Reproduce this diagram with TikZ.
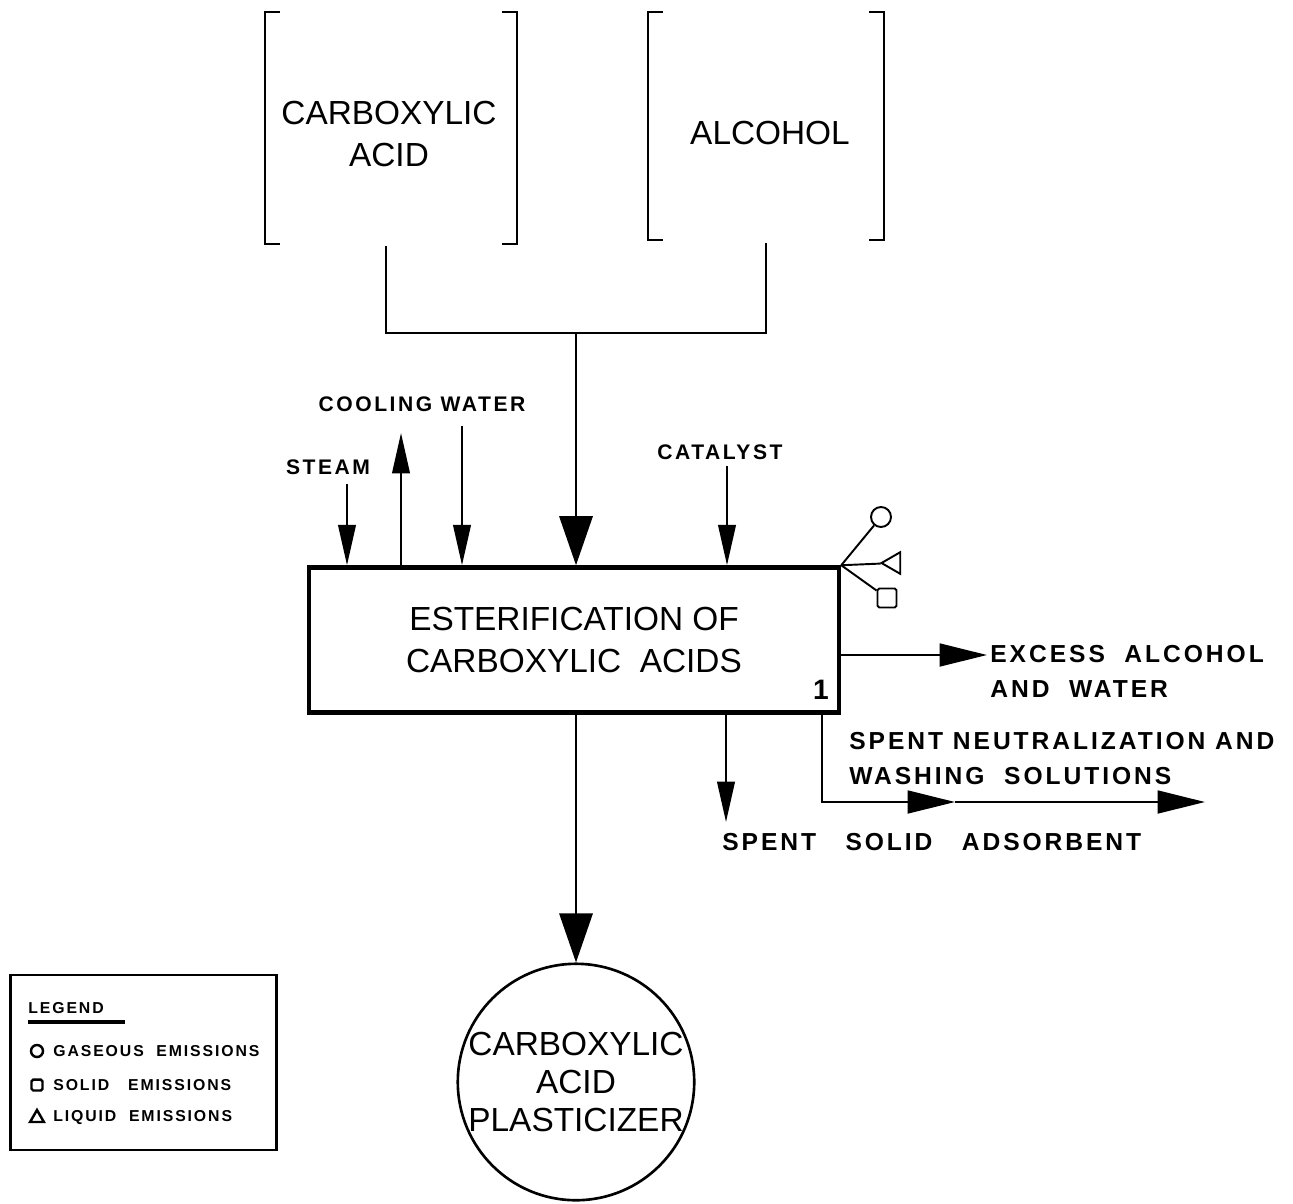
\documentclass[tikz,border=0pt]{standalone}
\usepackage{fontspec}
\setmainfont{Liberation Sans}
\newfontfamily\labelfont[LetterSpace=12]{Liberation Sans}
\usetikzlibrary{arrows.meta,shapes.geometric}

\tikzset{
  flow/.style={line width=1.3pt, -{Triangle[length=23pt,width=10pt]}},
  wideflow/.style={line width=1.3pt, -{Triangle[length=27pt,width=13pt]}},
  bigflow/.style={line width=1.3pt, -{Triangle[length=28pt,width=19pt]}},
  big/.style={font=\fontsize{19}{24}\selectfont, align=center},
  lbl/.style={font=\labelfont\bfseries\fontsize{12}{14}\selectfont, inner sep=0pt},
  rlbl/.style={font=\labelfont\bfseries\fontsize{14}{20}\selectfont, inner sep=0pt, align=left},
  lgd/.style={font=\labelfont\bfseries\fontsize{9}{9}\selectfont, inner sep=0pt},
  key/.style={draw, line width=1.4pt, inner sep=0pt},
}

\begin{document}
\begin{tikzpicture}[x=0.02cm, y=-0.02cm]
    \useasboundingbox (0,0) rectangle (1293,1203);

    % raw materials
    \node [minimum width=5.02cm, minimum height=4.62cm] (acidframe) at (391,128) {};
    \node [minimum width=4.7cm, minimum height=4.56cm] (alcoholframe) at (766,126) {};
    \node [big] (acid) at (389,134) {CARBOXYLIC\\ACID};
    \node [big] (alcohol) at (770,133) {ALCOHOL};
    \draw [line width=1.1pt] ([xshift=0.3cm]acidframe.north west) -- (acidframe.north west) -- (acidframe.south west) -- ++(15,0);
    \draw [line width=1.1pt] ([xshift=-0.3cm]acidframe.north east) -- (acidframe.north east) -- (acidframe.south east) -- ++(-15,0);
    \draw [line width=1.1pt] ([xshift=0.3cm]alcoholframe.north west) -- (alcoholframe.north west) -- (alcoholframe.south west) -- ++(15,0);
    \draw [line width=1.1pt] ([xshift=-0.3cm]alcoholframe.north east) -- (alcoholframe.north east) -- (alcoholframe.south east) -- ++(-15,0);

    \coordinate (merge) at (576,333);
    \draw [line width=1.3pt] ([xshift=-0.1cm,yshift=-0.05cm]acidframe.south) |- (merge) -| ([yshift=-0.05cm]alcoholframe.south);

    % process
    \node [draw, line width=2.6pt, minimum width=10.6cm, minimum height=2.9cm, big] (esterif) at (574,640) {ESTERIFICATION OF\\CARBOXYLIC\ \ ACIDS};
    \node [font=\bfseries\fontsize{16}{16}\selectfont, inner sep=0pt] (unitno) at (821,690) {1};

    \draw [bigflow] (merge) -- (merge |- esterif.north);

    % utilities
    \node [lbl] (steam) at (328,467) {STEAM};
    \node [lbl] (cooling) at (422,404) {COOLING WATER};
    \node [lbl] (catalyst) at (720,452) {CATALYST};
    \coordinate (steamin) at (347,484);
    \coordinate (cwout) at (401,433);
    \coordinate (cwin) at (462,426);
    \coordinate (catin) at (727,466);
    \draw [flow] (steamin) -- (steamin |- esterif.north);
    \draw [flow] (cwout |- esterif.north) -- (cwout);
    \draw [flow] (cwin) -- (cwin |- esterif.north);
    \draw [flow] (catin) -- (catin |- esterif.north);

    % emissions
    \node [key, line width=1.1pt, circle, minimum size=0.4cm] (gas) at (881,517) {};
    \node [key, line width=1.1pt, regular polygon, regular polygon sides=3, shape border rotate=90, minimum size=0.5cm] (liquid) at (894,563) {};
    \node [key, line width=1.1pt, rounded corners=1pt, minimum size=0.38cm] (solid) at (887,598) {};
    \draw [line width=1.1pt] (esterif.north east) -- (gas);
    \draw [line width=1.1pt] (esterif.north east) -- (liquid);
    \draw [line width=1.1pt] (esterif.north east) -- (solid);

    % outlets
    \node [rlbl, anchor=north west] (excess) at (990,645) {EXCESS\ \ ALCOHOL\\AND\ \ WATER};
    \coordinate (excessout) at (987,655);
    \draw [wideflow] (excessout -| esterif.east) -- (excessout);

    \node [rlbl, anchor=west] (adsorbent) at (722,842) {SPENT\ \ \ SOLID\ \ \ ADSORBENT};
    \coordinate (adsout) at (726,822);
    \draw [flow] (adsout |- esterif.south) -- (adsout);

    \node [rlbl, anchor=north west] (washing) at (849,732) {SPENT NEUTRALIZATION AND\\WASHING\ \ SOLUTIONS};
    \coordinate (washbend) at (822,802);
    \coordinate (washmid) at (955,802);
    \coordinate (washout) at (1205,802);
    \draw [wideflow] (washbend |- esterif.south) -- (washbend) -- (washmid);
    \draw [wideflow] (washmid) -- (washout);

    % product
    \node [draw, circle, line width=1.5pt, minimum size=4.7cm, inner sep=0pt, font=\fontsize{19}{21.5}\selectfont, align=center] (product) at (576,1082) {CARBOXYLIC\\ACID\\PLASTICIZER};
    \draw [bigflow] (product.north |- esterif.south) -- (product.north);

    % legend
    \node [draw, line width=1.2pt, minimum width=5.32cm, minimum height=3.5cm] (legend) at (143.5,1062.5) {};
    \node [lgd, anchor=west] (legendtitle) at (28,1008) {LEGEND};
    \draw [line width=1.8pt] (28,1022) -- (125,1022);
    \node [key, circle, minimum size=0.24cm] (gaskey) at (37,1051) {};
    \node [lgd, anchor=west] (gastext) at (53,1051) {GASEOUS\ \ EMISSIONS};
    \node [key, rounded corners=1pt, minimum size=0.22cm] (solidkey) at (37,1085) {};
    \node [lgd, anchor=west] (solidtext) at (53,1085) {SOLID\ \ \ EMISSIONS};
    \node [key, regular polygon, regular polygon sides=3, minimum size=0.32cm] (liquidkey) at (37,1118) {};
    \node [lgd, anchor=west] (liquidtext) at (53,1118) {LIQUID\ \ EMISSIONS};

\end{tikzpicture}
\end{document}
